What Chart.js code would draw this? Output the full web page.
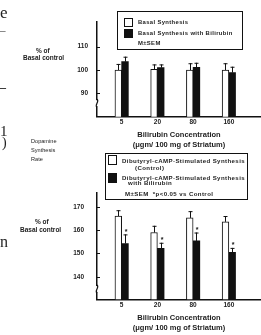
<!DOCTYPE html>
<html>
<head>
<meta charset="utf-8">
<script src="https://cdn.jsdelivr.net/npm/chart.js@4.4.1/dist/chart.umd.min.js"></script>
<style>
  html, body { margin: 0; padding: 0; background: #fff; }
  #page { position: relative; width: 261px; height: 335px; overflow: hidden; background: #fff; }
  canvas { position: absolute; left: 0; top: 0; }
  .t { position: absolute; white-space: nowrap; color: #1c1c1c; font-family: "Liberation Sans", Arial, sans-serif; font-weight: bold; line-height: 1; }
  .s { position: absolute; white-space: nowrap; color: #222; font-family: "Liberation Serif", "DejaVu Serif", serif; line-height: 1; }
  .box { position: absolute; border: 1px solid #111; box-sizing: border-box; }
  .sq { position: absolute; box-sizing: border-box; border: 1px solid #111; }
</style>
</head>
<body>
<div id="page">
  <canvas id="c2" width="261" height="335"></canvas>
  <canvas id="c1" width="261" height="335"></canvas>

  <!-- cropped text at the left edge -->
  <div class="s" style="left:0px;top:4px;font-size:17px;">e</div>
  <div class="s" style="left:0px;top:25px;font-size:11px;">–</div>
  <div class="s" style="left:0px;top:81px;font-size:12px;font-weight:bold;">–</div>
  <div class="s" style="left:0px;top:124px;font-size:15px;">1</div>
  <div class="s" style="left:2px;top:136px;font-size:14px;">)</div>
  <div class="s" style="left:-7px;top:234px;font-size:16px;">en</div>

  <!-- top panel -->
  <div class="t" style="left:36px;top:48px;font-size:6.5px;">% of</div>
  <div class="t" style="left:23px;top:55px;font-size:6.5px;">Basal control</div>
  <div class="box" style="left:117px;top:11px;width:126px;height:39px;"></div>
  <div class="sq" style="left:124px;top:18px;width:9px;height:9px;background:#fff;"></div>
  <div class="t" style="left:138px;top:19.5px;font-size:5.9px;letter-spacing:0.35px;">Basal Synthesis</div>
  <div class="sq" style="left:124px;top:29px;width:9px;height:9px;background:#111;"></div>
  <div class="t" style="left:138px;top:30.5px;font-size:5.9px;letter-spacing:0.35px;">Basal Synthesis with Bilirubin</div>
  <div class="t" style="left:138px;top:40.5px;font-size:5.9px;letter-spacing:0.35px;">M±SEM</div>

  <!-- bottom panel -->
  <div class="t" style="left:31px;top:139px;font-size:5.6px;font-weight:normal;">Dopamine</div>
  <div class="t" style="left:31px;top:148px;font-size:5.6px;font-weight:normal;">Synthesis</div>
  <div class="t" style="left:31px;top:157px;font-size:5.6px;font-weight:normal;">Rate</div>
  <div class="t" style="left:35px;top:219px;font-size:6.5px;">% of</div>
  <div class="t" style="left:20px;top:227px;font-size:6.5px;">Basal control</div>
  <div class="box" style="left:105px;top:153px;width:143px;height:47px;"></div>
  <div class="sq" style="left:108px;top:155px;width:9px;height:10px;background:#fff;"></div>
  <div class="t" style="left:122px;top:157.5px;font-size:6.1px;letter-spacing:0.4px;">Dibutyryl-cAMP-Stimulated Synthesis</div>
  <div class="t" style="left:135px;top:164.5px;font-size:6.1px;letter-spacing:0.4px;">(Control)</div>
  <div class="sq" style="left:108px;top:173px;width:9px;height:10px;background:#111;"></div>
  <div class="t" style="left:122px;top:174.5px;font-size:6.1px;letter-spacing:0.4px;">Dibutyryl-cAMP-Stimulated Synthesis</div>
  <div class="t" style="left:128px;top:180px;font-size:6.1px;letter-spacing:0.4px;">with Bilirubin</div>
  <div class="t" style="left:125px;top:190.5px;font-size:6.1px;letter-spacing:0.4px;">M±SEM&nbsp;&nbsp;*p&lt;0.05 vs Control</div>
</div>

<script>
// ---------- data ----------
const categories = ['5', '20', '80', '160'];

const basal        = [100, 100.3, 100, 100];
const basalSem     = [2.6, 2.1, 2.9, 2.9];
const basalBili    = [103.6, 101, 101.1, 98.9];
const basalBiliSem = [2.1, 1.4, 2.0, 2.5];
const topTicks     = [90, 100, 110];

const camp         = [166.1, 159.0, 165.3, 163.6];
const campSem      = [2.5, 2.9, 2.9, 2.5];
const campBili     = [154.3, 152.2, 155.4, 150.5];
const campBiliSem  = [3.9, 2.4, 3.6, 1.9];
const campSig      = [true, true, true, true];
const bottomTicks  = [140, 150, 160, 170];

// ---------- helpers ----------
const INK = '#111';
const TXT = '#1c1c1c';
Chart.defaults.font.family = '"Liberation Sans", Arial, sans-serif';
Chart.defaults.color = TXT;

function makeDecor(errs, stars, breakValue) {
  return {
    id: 'decor',
    afterDatasetsDraw(chart) {
      const ctx = chart.ctx;
      const y = chart.scales.y;
      ctx.save();
      ctx.strokeStyle = INK;
      ctx.fillStyle = INK;
      ctx.lineWidth = 1;
      chart.data.datasets.forEach((ds, di) => {
        const meta = chart.getDatasetMeta(di);
        meta.data.forEach((bar, i) => {
          const v = ds.data[i].y;
          const e = errs[di][i];
          const yTop = y.getPixelForValue(v + e);
          const x = Math.round(bar.x) + 0.5;
          ctx.beginPath();
          ctx.moveTo(x, bar.y);
          ctx.lineTo(x, yTop);
          ctx.moveTo(x - 2, yTop + 0.5);
          ctx.lineTo(x + 2, yTop + 0.5);
          ctx.stroke();
          if (stars && stars[di] && stars[di][i]) {
            ctx.font = 'bold 7px "Liberation Sans", Arial, sans-serif';
            ctx.textAlign = 'center';
            ctx.textBaseline = 'middle';
            ctx.fillText('*', x + 0.5, yTop - 2.5);
          }
        });
      });
      ctx.restore();
    },
    afterDraw(chart) {
      const ctx = chart.ctx;
      const y = chart.scales.y;
      const ax = chart.chartArea.left;
      ctx.save();
      ctx.strokeStyle = INK;
      ctx.lineWidth = 1;
      // inward tick marks
      y.ticks.forEach(t => {
        const py = Math.round(y.getPixelForValue(t.value)) + 0.5;
        ctx.beginPath();
        ctx.moveTo(ax, py);
        ctx.lineTo(ax + 3, py);
        ctx.stroke();
      });
      // axis break
      const by = y.getPixelForValue(breakValue);
      ctx.fillStyle = '#fff';
      ctx.fillRect(ax - 2, by - 3, 4, 6);
      ctx.lineWidth = 1.2;
      ctx.beginPath();
      ctx.moveTo(ax, by - 4);
      ctx.bezierCurveTo(ax + 3, by - 2, ax - 3, by + 2, ax, by + 4);
      ctx.stroke();
      ctx.restore();
    }
  };
}

function makeChart(canvasId, opts) {
  const xTitleFont = { size: 7.5, weight: 'bold', lineHeight: 1.27 };
  return new Chart(document.getElementById(canvasId), {
    type: 'bar',
    data: {
      datasets: [
        {
          data: opts.a.map((v, i) => ({ x: i, y: v })),
          backgroundColor: '#fff',
          borderColor: INK,
          borderWidth: 1,
          barThickness: 6.7
        },
        {
          data: opts.b.map((v, i) => ({ x: i, y: v })),
          backgroundColor: INK,
          borderWidth: 0,
          barThickness: 6.7
        }
      ]
    },
    options: {
      responsive: false,
      animation: false,
      events: [],
      layout: { padding: opts.padding },
      plugins: { legend: { display: false }, tooltip: { enabled: false } },
      scales: {
        x: {
          type: 'linear',
          offset: false,
          bounds: 'data',
          min: -0.69,
          max: 3.9,
          grid: { display: false, drawTicks: false, offset: false },
          border: { display: true, color: INK, width: 1.5 },
          afterBuildTicks: s => { s.ticks = categories.map((c, i) => ({ value: i })); },
          afterFit: s => { s.height = 33; },
          ticks: {
            autoSkip: false, maxRotation: 0, padding: 2,
            font: { size: 6.5, weight: 'bold' },
            callback: v => categories[v]
          },
          title: {
            display: true,
            text: ['Bilirubin Concentration', '(\u03bcgm/ 100 mg of Striatum)'],
            font: xTitleFont,
            padding: 0
          }
        },
        y: {
          min: opts.min,
          max: opts.max,
          grid: { display: false, drawTicks: false },
          border: { display: true, color: INK, width: 1.5 },
          afterBuildTicks: s => { s.ticks = opts.ticks.map(v => ({ value: v })); },
          afterFit: s => { s.width = 97; },
          ticks: { padding: opts.tickPad, font: { size: 6.5, weight: 'bold' } }
        }
      }
    },
    plugins: [makeDecor(opts.errs, opts.stars, opts.breakValue)]
  });
}

makeChart('c1', {
  a: basal, b: basalBili, errs: [basalSem, basalBiliSem], stars: null,
  min: 80, max: 120.7, ticks: topTicks, tickPad: 9, breakValue: 85.8,
  padding: { top: 21.7, bottom: 185.3, left: 0, right: 0 }
});

makeChart('c2', {
  a: camp, b: campBili, errs: [campSem, campBiliSem], stars: [null, campSig],
  min: 130.3, max: 176, ticks: bottomTicks, tickPad: 13, breakValue: 134.7,
  padding: { top: 193, bottom: 2.7, left: 0, right: 0 }
});
</script>
</body>
</html>
